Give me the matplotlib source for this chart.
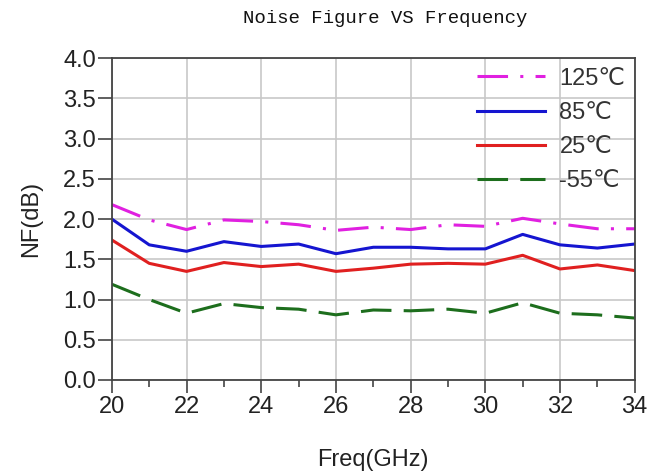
import matplotlib
matplotlib.use("Agg")
import matplotlib.pyplot as plt
from matplotlib.ticker import MultipleLocator

freq = [20, 21, 22, 23, 24, 25, 26, 27, 28, 29, 30, 31, 32, 33, 34]
nf_125 = [2.18, 1.99, 1.87, 1.99, 1.97, 1.93, 1.86, 1.90, 1.87, 1.93, 1.91, 2.01, 1.94, 1.88, 1.88]
nf_85 = [2.00, 1.68, 1.60, 1.72, 1.66, 1.69, 1.57, 1.65, 1.65, 1.63, 1.63, 1.81, 1.68, 1.64, 1.69]
nf_25 = [1.74, 1.45, 1.35, 1.46, 1.41, 1.44, 1.35, 1.39, 1.44, 1.45, 1.44, 1.55, 1.38, 1.43, 1.36]
nf_m55 = [1.19, 1.00, 0.83, 0.95, 0.90, 0.88, 0.81, 0.87, 0.86, 0.88, 0.83, 0.96, 0.83, 0.81, 0.77]
labels = ["125℃", "85℃", "25℃", "-55℃"]

plt.rcParams['font.family'] = ['Liberation Sans', 'DejaVu Sans']

fig = plt.figure(figsize=(6.66, 4.76), dpi=100)
ax = fig.add_axes([0.168, 0.2017, 0.785, 0.676])

lw = 2.2
ax.plot(freq, nf_125, color='#e020e0', lw=lw, dashes=(10, 4, 1, 4), label=labels[0])
ax.plot(freq, nf_85, color='#1515d0', lw=lw, label=labels[1])
ax.plot(freq, nf_25, color='#e02020', lw=lw, label=labels[2])
ax.plot(freq, nf_m55, color='#1d6e1d', lw=lw, dashes=(10, 4), label=labels[3])

ax.set_xlim(20, 34)
ax.set_ylim(0, 4.0)
ax.xaxis.set_major_locator(MultipleLocator(2))
ax.xaxis.set_minor_locator(MultipleLocator(1))
ax.yaxis.set_major_locator(MultipleLocator(0.5))
ax.set_yticks(ax.get_yticks())
ax.set_yticklabels([f"{v:.1f}" for v in ax.get_yticks()])
ax.set_ylim(0, 4.0)
ax.grid(True, which='major', color='#c8c8c8', lw=1.2)
ax.tick_params(axis='x', which='major', direction='out', length=9, width=1.2,
               pad=2.5, labelsize=17, colors='#444444', labelcolor='#222222')
ax.tick_params(axis='y', which='major', direction='out', length=10, width=1.2,
               pad=1.5, labelsize=17, colors='#444444', labelcolor='#222222')
ax.tick_params(axis='x', which='minor', direction='out', length=5, width=1.2, colors='#444444')
ax.tick_params(axis='y', which='minor', left=False)
for s in ax.spines.values():
    s.set_color('#444444')
    s.set_linewidth(1.3)

ax.set_xlabel("Freq(GHz)", fontsize=17, color='#222222', labelpad=22)
ax.set_ylabel("NF(dB)", fontsize=17, color='#222222', labelpad=15)
fig.text(0.578, 0.962, "Noise Figure VS Frequency", ha='center', va='center',
         fontsize=13.7, family=['Liberation Mono', 'DejaVu Sans Mono'], color='#111111')

leg = ax.legend(loc='upper right', frameon=False, fontsize=17, handlelength=2.9,
                handletextpad=0.6, labelspacing=0.52, borderaxespad=0.0,
                borderpad=0.4, labelcolor='#333333')

fig.savefig("out.png", dpi=100)
